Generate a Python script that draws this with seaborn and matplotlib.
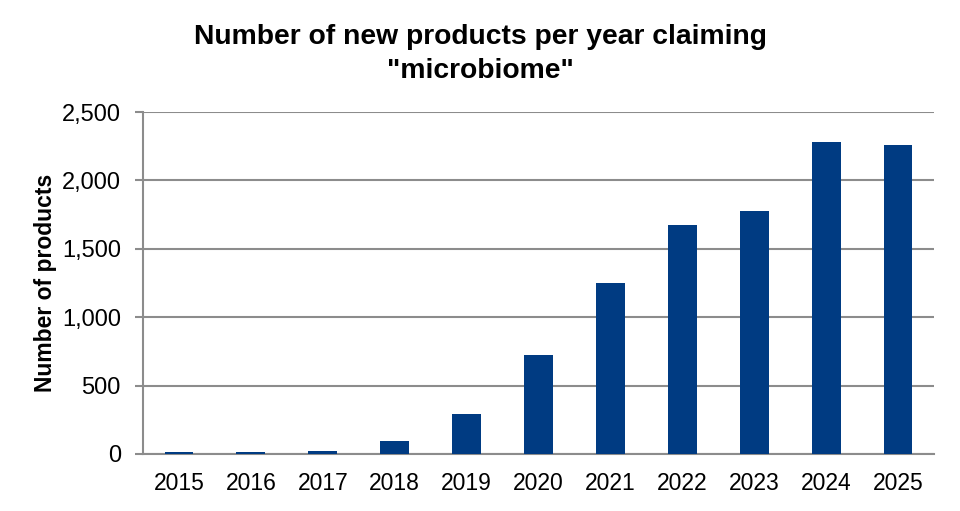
import matplotlib
matplotlib.use("Agg")
import matplotlib.pyplot as plt
import seaborn as sns
import pandas as pd
import numpy as np

years = ["2015", "2016", "2017", "2018", "2019", "2020", "2021", "2022", "2023", "2024", "2025"]
products = [12, 12, 25, 93, 295, 725, 1250, 1676, 1779, 2280, 2260]

title = 'Number of new products per year claiming\n"microbiome"'
ylabel = "Number of products"

sns.set_style("white")
plt.rcParams['font.family'] = ['Liberation Sans', 'DejaVu Sans']
plt.rcParams['text.color'] = 'black'
plt.rcParams['axes.labelcolor'] = 'black'
plt.rcParams['xtick.color'] = 'black'
plt.rcParams['ytick.color'] = 'black'

df = pd.DataFrame({"year": years, "products": products})

fig = plt.figure(figsize=(9.6, 5.11), dpi=100)
ax = fig.add_axes([143/960, 1-454/511, (934-143)/960, (454-112)/511])

sns.barplot(data=df, x="year", y="products", color="#003B82", width=0.40,
            saturation=1, ax=ax, zorder=3, edgecolor="none")

ax.set_ylim(0, 2500)
ax.set_xlim(-0.5, len(years)-0.5)
ax.set_yticks(np.arange(0, 2501, 500))
ax.set_yticklabels([f"{v:,}" for v in range(0, 2501, 500)])
ax.yaxis.grid(True, color="#8C8C8C", linewidth=1.5, zorder=0)
ax.set_axisbelow(True)

for s in ["top", "right"]:
    ax.spines[s].set_visible(False)
for s in ["left", "bottom"]:
    ax.spines[s].set_color("#8C8C8C")
    ax.spines[s].set_linewidth(1.5)

ax.set_xticks(np.arange(-0.5, len(years), 1.0), minor=True)
ax.tick_params(axis="x", which="major", length=0, labelsize=16.5, pad=13, labelcolor="black")
ax.tick_params(axis="x", which="minor", length=6, width=1.5, color="#8C8C8C", direction="out")
ax.tick_params(axis="y", which="major", length=6, width=1.5, color="#8C8C8C", labelsize=17,
               pad=10, left=True, labelcolor="black")

ax.set_xlabel("")
ax.set_ylabel(ylabel, fontsize=16.5, fontweight="bold", color="black")
ax.yaxis.set_label_coords(-(143-57)/791, 0.5)

fig.text(0.5, 1-54/511, title, ha="center", va="center", fontsize=20.3,
         fontweight="bold", linespacing=1.38, color="black")

fig.savefig("out.png", dpi=100, facecolor="white")
